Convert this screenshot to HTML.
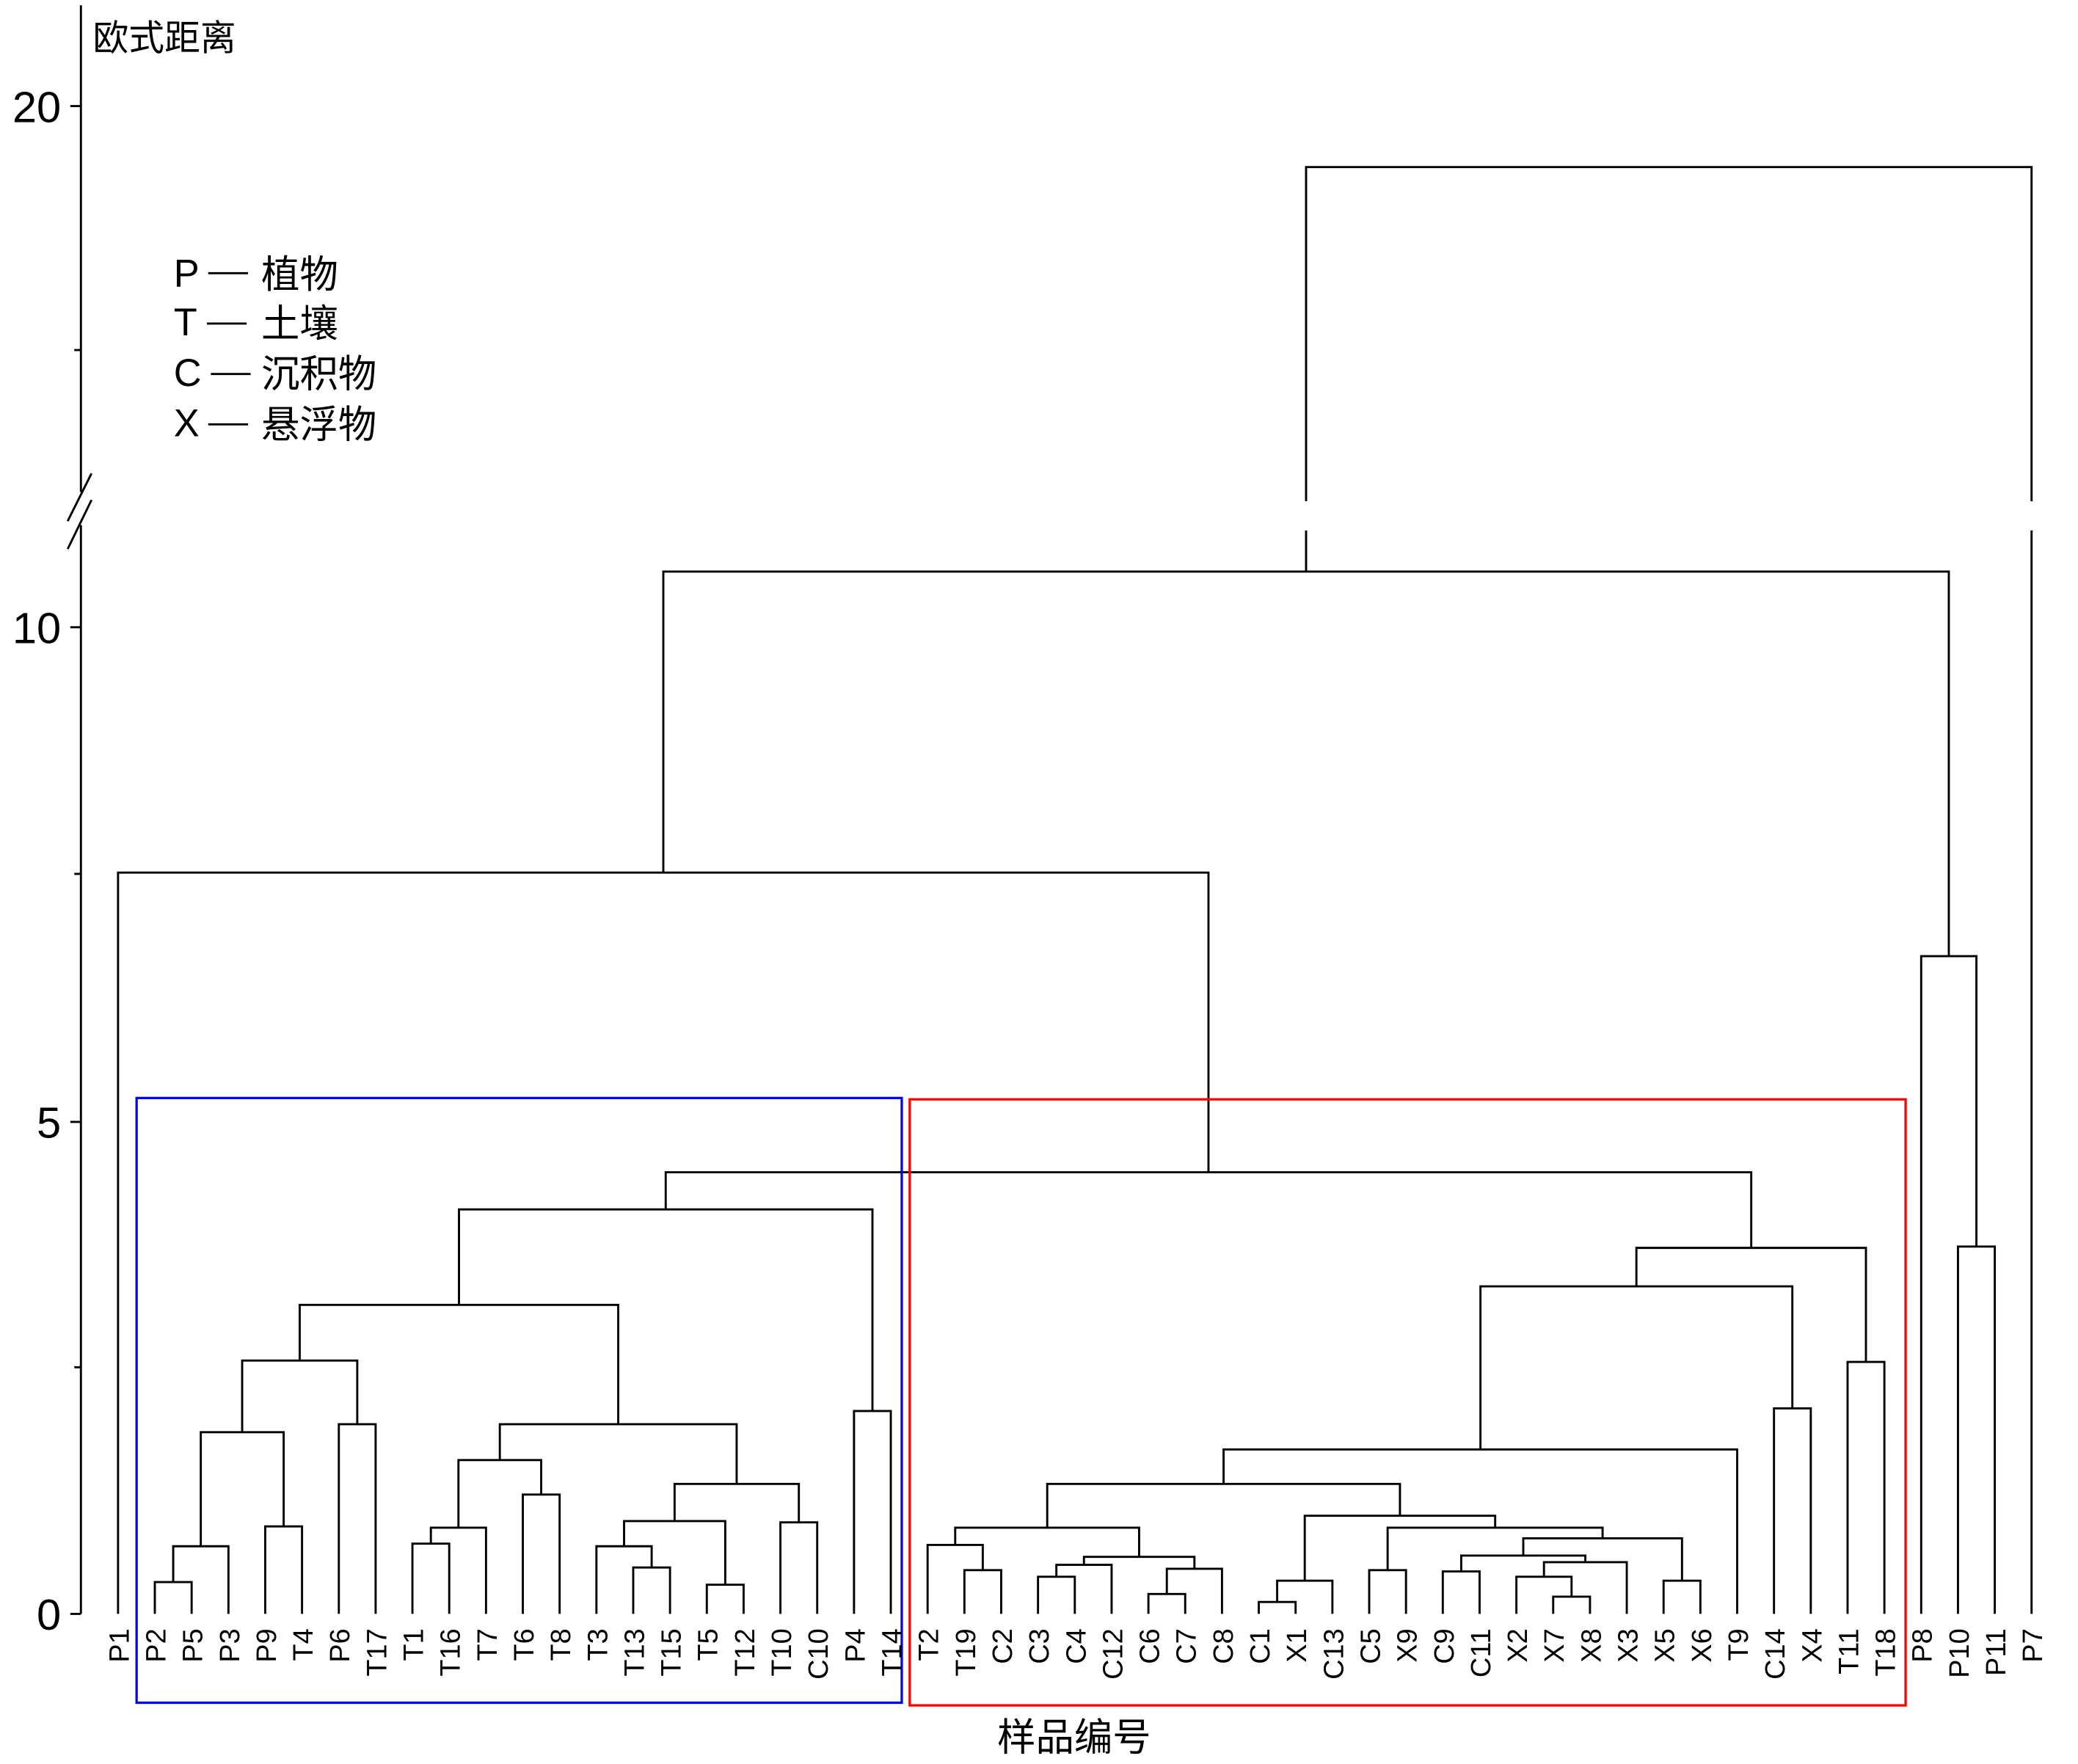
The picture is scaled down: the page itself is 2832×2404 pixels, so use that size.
<!DOCTYPE html>
<html><head><meta charset="utf-8"><style>
html,body{margin:0;padding:0;background:#fff;}
svg{display:block;}
text{font-family:"Liberation Sans","Noto Sans CJK SC",sans-serif;fill:#000;}
</style></head><body>
<svg width="2832" height="2404" viewBox="0 0 1567 1330.2" xmlns="http://www.w3.org/2000/svg">
<g fill="none" stroke="#000" stroke-width="1.6">
<path d="M61 4 V371 M61 396 V1217"/>
<path d="M51 393 L69 357 M51 414 L69 377"/>
<path d="M61 80 H53 M61 264 H56 M61 473 H53 M61 659 H56 M61 846 H53 M61 1031 H56 M61 1217 H53"/>
<path d="M116.75 1217 V1193 H144.5 V1217"/>
<path d="M130.6 1193 V1166 H172.25 V1217"/>
<path d="M200 1217 V1151 H227.75 V1217"/>
<path d="M151.4 1166 V1080 H213.9 V1151"/>
<path d="M255.5 1217 V1074 H283.25 V1217"/>
<path d="M182.6 1080 V1026 H269.4 V1074"/>
<path d="M311 1217 V1164 H338.75 V1217"/>
<path d="M324.9 1164 V1152 H366.5 V1217"/>
<path d="M394.25 1217 V1127 H422 V1217"/>
<path d="M345.7 1152 V1101 H408.1 V1127"/>
<path d="M477.5 1217 V1182 H505.25 V1217"/>
<path d="M449.75 1217 V1166 H491.4 V1182"/>
<path d="M533 1217 V1195 H560.75 V1217"/>
<path d="M470.6 1166 V1147 H546.9 V1195"/>
<path d="M588.5 1217 V1148 H616.25 V1217"/>
<path d="M508.7 1147 V1119 H602.4 V1148"/>
<path d="M376.9 1101 V1074 H555.5 V1119"/>
<path d="M226 1026 V984 H466.2 V1074"/>
<path d="M644 1217 V1064 H671.75 V1217"/>
<path d="M346.1 984 V912 H657.9 V1064"/>
<path d="M727.25 1217 V1184 H755 V1217"/>
<path d="M699.5 1217 V1165 H741.1 V1184"/>
<path d="M782.75 1217 V1189 H810.5 V1217"/>
<path d="M796.6 1189 V1180 H838.25 V1217"/>
<path d="M866 1217 V1202 H893.75 V1217"/>
<path d="M879.9 1202 V1183 H921.5 V1217"/>
<path d="M817.4 1180 V1174 H900.7 V1183"/>
<path d="M720.3 1165 V1152 H859 V1174"/>
<path d="M949.25 1217 V1208 H977 V1217"/>
<path d="M963.1 1208 V1192 H1004.75 V1217"/>
<path d="M1032.5 1217 V1184 H1060.25 V1217"/>
<path d="M1088 1217 V1185 H1115.75 V1217"/>
<path d="M1171.25 1217 V1204 H1199 V1217"/>
<path d="M1143.5 1217 V1189 H1185.1 V1204"/>
<path d="M1164.3 1189 V1178 H1226.75 V1217"/>
<path d="M1101.9 1185 V1173 H1195.5 V1178"/>
<path d="M1254.5 1217 V1192 H1282.25 V1217"/>
<path d="M1148.7 1173 V1160 H1268.4 V1192"/>
<path d="M1046.4 1184 V1152 H1208.5 V1160"/>
<path d="M983.9 1192 V1143 H1127.5 V1152"/>
<path d="M789.7 1152 V1119 H1055.7 V1143"/>
<path d="M922.7 1119 V1093 H1310 V1217"/>
<path d="M1337.75 1217 V1062 H1365.5 V1217"/>
<path d="M1116.4 1093 V970 H1351.6 V1062"/>
<path d="M1393.25 1217 V1027 H1421 V1217"/>
<path d="M1234 970 V941 H1407.1 V1027"/>
<path d="M502 912 V884 H1320.6 V941"/>
<path d="M89 1217 V658 H911.3 V884"/>
<path d="M1476.5 1217 V940 H1504.25 V1217"/>
<path d="M1448.75 1217 V721 H1490.4 V940"/>
<path d="M500.2 658 V431 H1469.6 V721"/>
<path d="M984.9 431 V400 M984.9 378 V126 H1532 V378 M1532 400 V1217"/>
<path d="M157 206 H187 M156 244 H186 M159 282 H189 M157 320 H187"/>
</g>
<rect x="103" y="828" width="577" height="456" fill="none" stroke="#0000ff" stroke-width="1.8"/>
<rect x="686" y="829" width="751" height="457" fill="none" stroke="#ff0000" stroke-width="1.8"/>
<g font-size="33" text-anchor="end">
<text x="46" y="92">20</text>
<text x="46" y="485">10</text>
<text x="46" y="858">5</text>
<text x="46" y="1229">0</text>
</g>
<text x="70" y="38" font-size="27">欧式距离</text>
<g font-size="29">
<text x="131" y="216">P</text>
<text x="131" y="253">T</text>
<text x="131" y="291">C</text>
<text x="131" y="329">X</text>
<text x="197" y="217">植物</text>
<text x="197" y="254">土壤</text>
<text x="197" y="292">沉积物</text>
<text x="197" y="330">悬浮物</text>
</g>
<text x="810" y="1320" font-size="29" text-anchor="middle">样品编号</text>
<g font-size="21" text-anchor="end">
<text transform="translate(97,1228) rotate(-90)">P1</text>
<text transform="translate(124.75,1228) rotate(-90)">P2</text>
<text transform="translate(152.5,1228) rotate(-90)">P5</text>
<text transform="translate(180.25,1228) rotate(-90)">P3</text>
<text transform="translate(208,1228) rotate(-90)">P9</text>
<text transform="translate(235.75,1228) rotate(-90)">T4</text>
<text transform="translate(263.5,1228) rotate(-90)">P6</text>
<text transform="translate(291.25,1228) rotate(-90)">T17</text>
<text transform="translate(319,1228) rotate(-90)">T1</text>
<text transform="translate(346.75,1228) rotate(-90)">T16</text>
<text transform="translate(374.5,1228) rotate(-90)">T7</text>
<text transform="translate(402.25,1228) rotate(-90)">T6</text>
<text transform="translate(430,1228) rotate(-90)">T8</text>
<text transform="translate(457.75,1228) rotate(-90)">T3</text>
<text transform="translate(485.5,1228) rotate(-90)">T13</text>
<text transform="translate(513.25,1228) rotate(-90)">T15</text>
<text transform="translate(541,1228) rotate(-90)">T5</text>
<text transform="translate(568.75,1228) rotate(-90)">T12</text>
<text transform="translate(596.5,1228) rotate(-90)">T10</text>
<text transform="translate(624.25,1228) rotate(-90)">C10</text>
<text transform="translate(652,1228) rotate(-90)">P4</text>
<text transform="translate(679.75,1228) rotate(-90)">T14</text>
<text transform="translate(707.5,1228) rotate(-90)">T2</text>
<text transform="translate(735.25,1228) rotate(-90)">T19</text>
<text transform="translate(763,1228) rotate(-90)">C2</text>
<text transform="translate(790.75,1228) rotate(-90)">C3</text>
<text transform="translate(818.5,1228) rotate(-90)">C4</text>
<text transform="translate(846.25,1228) rotate(-90)">C12</text>
<text transform="translate(874,1228) rotate(-90)">C6</text>
<text transform="translate(901.75,1228) rotate(-90)">C7</text>
<text transform="translate(929.5,1228) rotate(-90)">C8</text>
<text transform="translate(957.25,1228) rotate(-90)">C1</text>
<text transform="translate(985,1228) rotate(-90)">X1</text>
<text transform="translate(1012.75,1228) rotate(-90)">C13</text>
<text transform="translate(1040.5,1228) rotate(-90)">C5</text>
<text transform="translate(1068.25,1228) rotate(-90)">X9</text>
<text transform="translate(1096,1228) rotate(-90)">C9</text>
<text transform="translate(1123.75,1228) rotate(-90)">C11</text>
<text transform="translate(1151.5,1228) rotate(-90)">X2</text>
<text transform="translate(1179.25,1228) rotate(-90)">X7</text>
<text transform="translate(1207,1228) rotate(-90)">X8</text>
<text transform="translate(1234.75,1228) rotate(-90)">X3</text>
<text transform="translate(1262.5,1228) rotate(-90)">X5</text>
<text transform="translate(1290.25,1228) rotate(-90)">X6</text>
<text transform="translate(1318,1228) rotate(-90)">T9</text>
<text transform="translate(1345.75,1228) rotate(-90)">C14</text>
<text transform="translate(1373.5,1228) rotate(-90)">X4</text>
<text transform="translate(1401.25,1228) rotate(-90)">T11</text>
<text transform="translate(1429,1228) rotate(-90)">T18</text>
<text transform="translate(1456.75,1228) rotate(-90)">P8</text>
<text transform="translate(1484.5,1228) rotate(-90)">P10</text>
<text transform="translate(1512.25,1228) rotate(-90)">P11</text>
<text transform="translate(1540,1228) rotate(-90)">P7</text>
</g>
</svg>
</body></html>
